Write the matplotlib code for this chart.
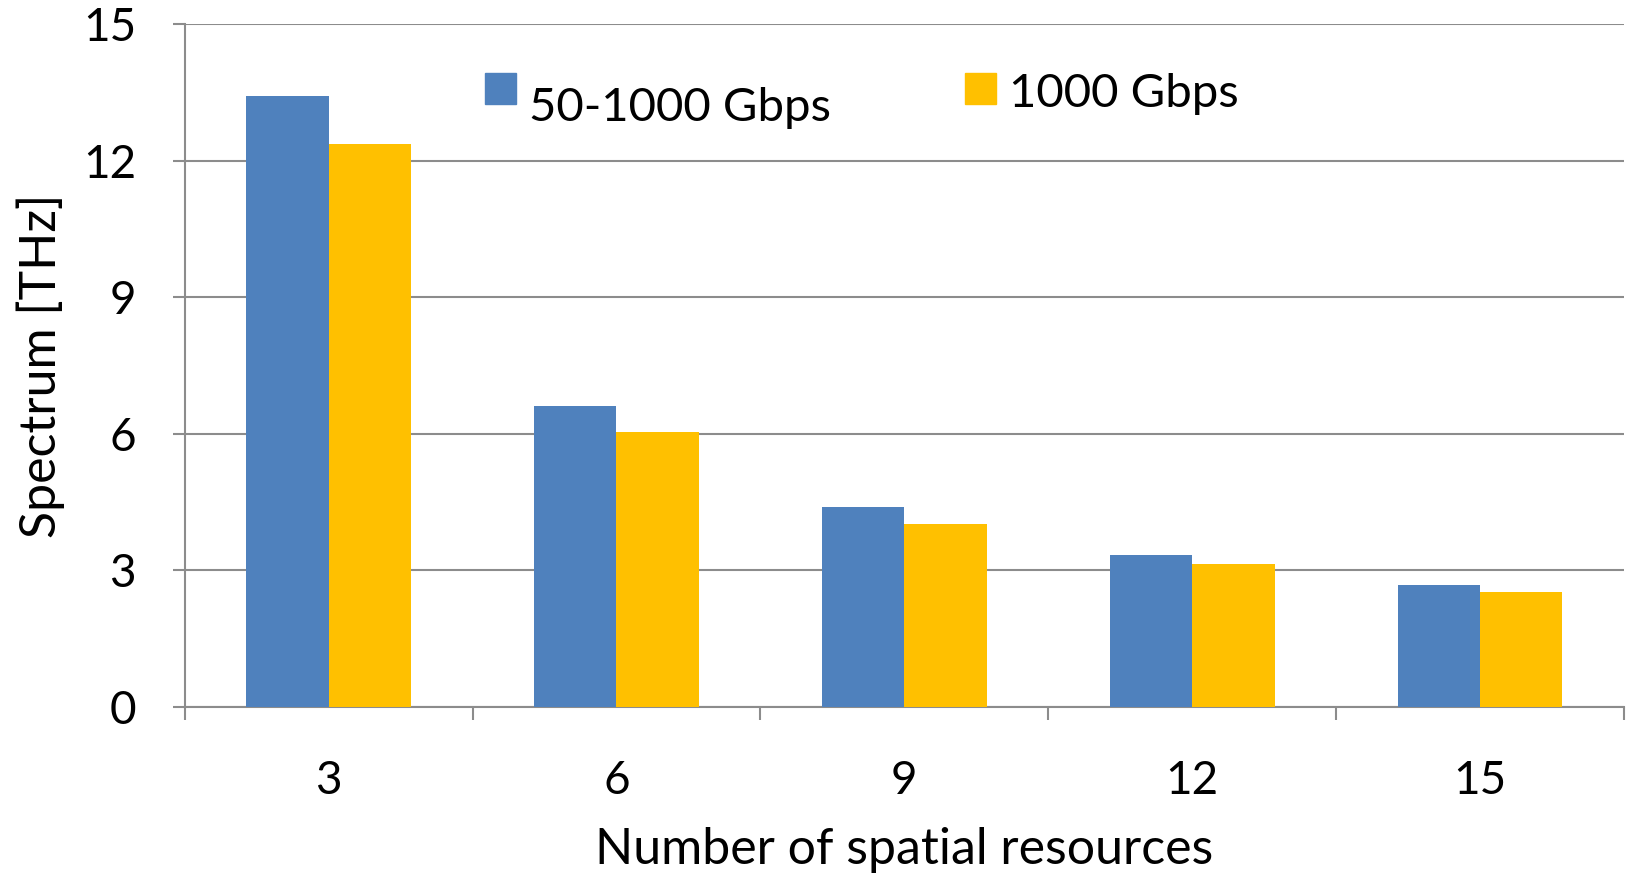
import matplotlib
matplotlib.use("Agg")
import matplotlib.pyplot as plt
from matplotlib.patches import Rectangle
import numpy as np

plt.rcParams['font.family'] = ['Lato', 'DejaVu Sans']

# spectrum needed per number of spatial resources
categories = ['3', '6', '9', '12', '15']
mixed_rates = [13.42, 6.62, 4.39, 3.33, 2.67]    # 50-1000 Gbps
fixed_rate = [12.37, 6.03, 4.02, 3.14, 2.52]     # 1000 Gbps
series_names = ['50-1000 Gbps', '1000 Gbps']

blue = '#4F81BD'
gold = '#FFC000'
grid_gray = '#8C8C8C'

fig = plt.figure(figsize=(16.27, 8.74), dpi=100)
ax = fig.add_axes([0.1135, 0.191, 0.8847, 0.7815])

x = np.arange(len(categories))
w = 1 / 3.5  # two bars, 150% gap
ax.bar(x - w / 2, mixed_rates, w, color=blue, zorder=3)
ax.bar(x + w / 2, fixed_rate, w, color=gold, zorder=3)

ax.set_xlim(-0.5, len(categories) - 0.5)
ax.set_ylim(0, 15)
ax.set_yticks(np.arange(0, 16, 3))
ax.yaxis.grid(True, color=grid_gray, linewidth=1.5, zorder=0)
ax.set_axisbelow(True)

# category labels centred, tick marks between categories
ax.set_xticks(x)
ax.set_xticklabels(categories)
ax.set_xticks(np.arange(-0.5, len(categories)), minor=True)
ax.tick_params(axis='x', which='major', length=0, pad=38, labelsize=33)
ax.tick_params(axis='x', which='minor', length=9, width=1.5, color=grid_gray,
               direction='out')
ax.tick_params(axis='y', length=9, width=1.5, color=grid_gray, pad=26,
               labelsize=33)

for side in ['top', 'right']:
    ax.spines[side].set_visible(False)
for side in ['left', 'bottom']:
    ax.spines[side].set_color(grid_gray)
    ax.spines[side].set_linewidth(1.5)

ax.set_xlabel('Number of spatial resources', fontsize=36, labelpad=18)
ax.set_ylabel('Spectrum [THz]', fontsize=36, labelpad=13)

# legend entries placed by hand
H = 874
W = 1627
fig.add_artist(Rectangle((484.6 / W, 1 - 103.8 / H), 31 / W, 31 / H,
                         transform=fig.transFigure, color=blue))
fig.text(529 / W, 1 - 121 / H, series_names[0], fontsize=34,
         va='baseline', ha='left')
fig.add_artist(Rectangle((965 / W, 1 - 103.8 / H), 31 / W, 31 / H,
                         transform=fig.transFigure, color=gold))
fig.text(1009 / W, 1 - 107 / H, series_names[1], fontsize=34,
         va='baseline', ha='left')

fig.savefig('out.png', dpi=100)
